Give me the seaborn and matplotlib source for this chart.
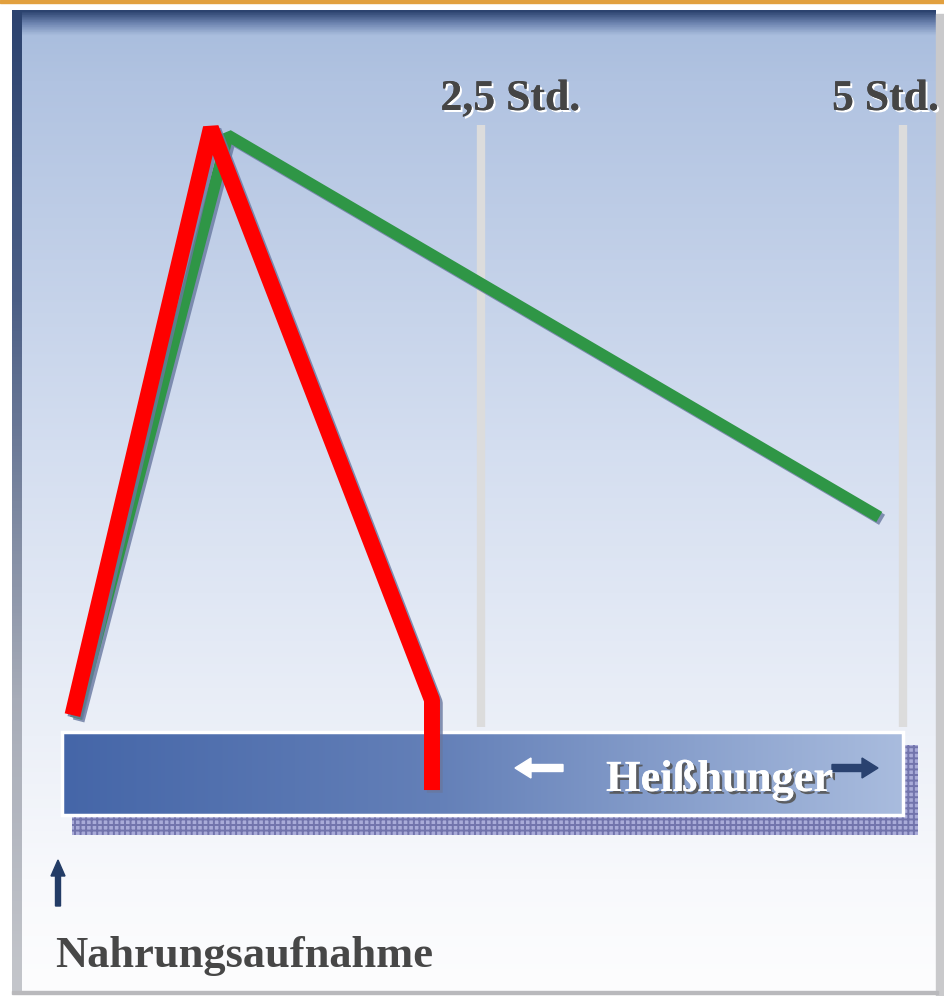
import numpy as np
import matplotlib.pyplot as plt
import matplotlib.patheffects as pe
from matplotlib.patches import Rectangle, FancyArrow
from matplotlib.colors import to_rgb
import seaborn as sns

# Blood sugar curve after a meal, time in hours, level relative to peak (=100)
red_t = [0.08, 0.90, 2.21, 2.21]
red_level = [2.8, 100.0, 5.3, -9.6]
green_t = [0.10, 1.00, 4.86]
green_level = [2.3, 98.8, 35.6]

mark_t = [2.5, 5.0]
mark_labels = ["2,5 Std.", "5 Std."]
mark_label_t = [2.26, 4.58]

bar_label = "Heißhunger"
meal_label = "Nahrungsaufnahme"

sns.set_theme(style="white")
plt.rcParams["font.family"] = ["Liberation Serif", "DejaVu Serif"]

fig = plt.figure(figsize=(9.44, 9.96), dpi=100)
fig.patch.set_facecolor("white")

# background / decoration layer in pixel units
bg = fig.add_axes([0, 0, 1, 1])
bg.set_xlim(0, 944)
bg.set_ylim(996, 0)
bg.axis("off")


def grad(stops, n):
    pos = np.array([s[0] for s in stops], dtype=float)
    cols = np.array([to_rgb(s[1]) for s in stops])
    y = np.linspace(pos[0], pos[-1], n)
    return np.stack([np.interp(y, pos, cols[:, i]) for i in range(3)], axis=1)


# panel gradient (top dark band -> light blue -> white)
col = grad([(10, "#2c436f"), (22, "#6d84b0"), (34, "#aabede"), (80, "#b1c3e1"),
            (450, "#d4def0"), (880, "#f8f9fc"), (993, "#fdfdfe")], 400)
img = np.repeat(col[:, None, :], 2, axis=1)
bg.imshow(img, extent=[12, 936, 993, 10], aspect="auto", zorder=0)

# left edge band
lcol = grad([(10, "#2c436f"), (300, "#4c5f86"), (700, "#a7acb8"), (993, "#c4c6cb")], 300)
bg.imshow(np.repeat(lcol[:, None, :], 2, axis=1), extent=[12, 22, 993, 10],
          aspect="auto", zorder=1)
# right edge and bottom edge
bg.add_patch(Rectangle((936, 14), 8, 982, color="#c9c9cb", zorder=1))
bg.add_patch(Rectangle((12, 991), 926, 3, color="#b9b9bc", zorder=1))
# orange rule at the top
bg.add_patch(Rectangle((0, 0), 944, 3, color="#e2a03e", zorder=1))

# checkered shadow of the bar
plt.rcParams["hatch.linewidth"] = 1.4
plt.rcParams["hatch.color"] = "#7274ac"
bg.add_patch(Rectangle((72, 745), 846, 90, facecolor="#a9abd8", edgecolor="#7274ac",
                       hatch="+++", lw=0, zorder=2))

# bar with horizontal gradient
bcol = grad([(0, "#4566a8"), (0.45, "#6480b8"), (1, "#a9bcde")], 300)
bg.imshow(np.repeat(bcol[None, :, :], 2, axis=0), extent=[62, 903, 815, 732],
          aspect="auto", zorder=3)
bg.add_patch(Rectangle((62, 732), 841, 83, fill=False, edgecolor="white", lw=2.5, zorder=4))

bg.add_patch(FancyArrow(563, 768, -32, 0, width=7, head_width=20, head_length=16,
                        length_includes_head=False, color="white", zorder=5))
bg.add_patch(FancyArrow(832, 768, 30, 0, width=7, head_width=20, head_length=16,
                        color="#2a4270", zorder=5))
bg.text(606, 791, bar_label, fontsize=32, fontweight="bold", color="white", zorder=6,
        path_effects=[pe.withSimplePatchShadow(offset=(2, -2), shadow_rgbFace="#555555",
                                               alpha=0.9), pe.Normal()])

bg.add_patch(FancyArrow(58, 906, 0, -30, width=5, head_width=14, head_length=16,
                        color="#233c66", zorder=5))
bg.text(55, 967, meal_label, fontsize=32, fontweight="bold", color="#474747", zorder=6)

# data layer
ax = fig.add_axes([0, 0, 1, 1])
ax.patch.set_alpha(0)
ax.set_xlim(-0.3495, 5.2435)
ax.set_ylim(-43.7, 121.2)
ax.axis("off")

ax.vlines(mark_t, 0.8, 100.5, color="#dcdcdc", lw=6, zorder=1)
for t, lab in zip(mark_label_t, mark_labels):
    ax.text(t, 103.0, lab, fontsize=31.5, fontweight="bold", color="#454545",
            va="baseline", ha="left", zorder=2,
            path_effects=[pe.withSimplePatchShadow(offset=(1.5, -1.5),
                                                   shadow_rgbFace="white", alpha=1),
                          pe.Normal()])

shadow = [pe.SimpleLineShadow(offset=(2, -2), shadow_color="#6878a0", alpha=0.8),
          pe.Normal()]

sns.lineplot(x=green_t, y=green_level, sort=False, estimator=None, ax=ax,
             color="#2f9646", lw=8.5, solid_joinstyle="bevel", solid_capstyle="butt",
             path_effects=shadow, zorder=3)
sns.lineplot(x=red_t, y=red_level, sort=False, estimator=None, ax=ax,
             color="#ff0000", lw=11.5, solid_joinstyle="bevel", solid_capstyle="butt",
             path_effects=shadow, zorder=4)

fig.savefig("out.png", dpi=100)
